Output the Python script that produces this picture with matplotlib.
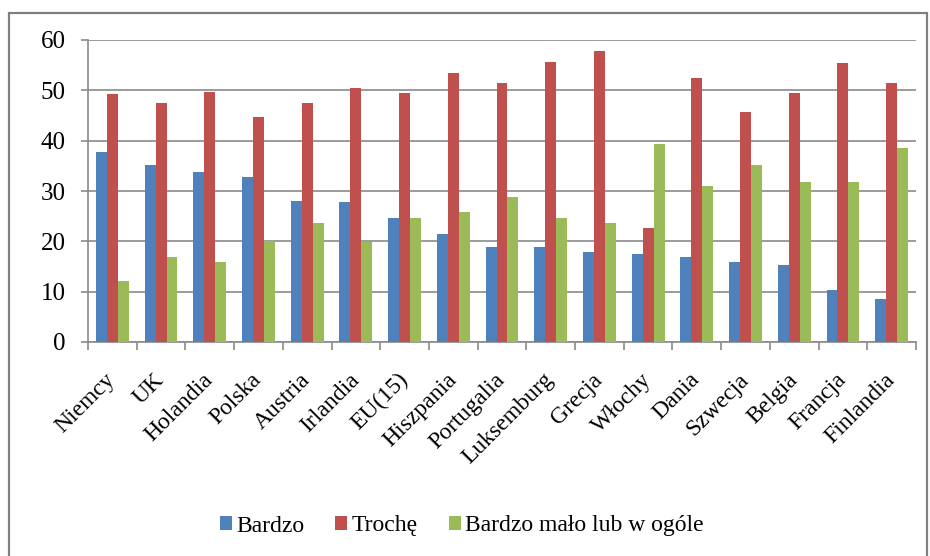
import numpy as np
import matplotlib
matplotlib.use("Agg")
from matplotlib import pyplot as plt
from matplotlib.patches import Rectangle

plt.rcParams['font.family'] = ['Liberation Serif', 'DejaVu Serif']

countries = ['Niemcy', 'UK', 'Holandia', 'Polska', 'Austria', 'Irlandia', 'EU(15)',
             'Hiszpania', 'Portugalia', 'Luksemburg', 'Grecja', 'Włochy', 'Dania',
             'Szwecja', 'Belgia', 'Francja', 'Finlandia']
bardzo = [37.8, 35.1, 33.7, 32.7, 28.1, 27.9, 24.7, 21.5, 18.8, 18.8, 17.8, 17.4,
          16.8, 15.8, 15.2, 10.3, 8.6]
troche = [49.2, 47.5, 49.7, 44.8, 47.5, 50.5, 49.4, 53.4, 51.4, 55.6, 57.8, 22.7,
          52.4, 45.6, 49.4, 55.4, 51.4]
malo = [12.2, 16.8, 15.8, 20.0, 23.7, 19.9, 24.7, 25.9, 28.8, 24.7, 23.7, 39.3,
        31.0, 35.1, 31.7, 31.7, 38.5]
series_names = ['Bardzo', 'Trochę', 'Bardzo mało lub w ogóle']
colors = ['#4F81BD', '#C0504D', '#9BBB59']

fig = plt.figure(figsize=(9.3, 5.56), dpi=100)
# outer chart border (bottom edge is cut off in the original)
fig.patches.append(Rectangle((9/930, -0.01), 918/930, 1 - 13/556 + 0.01,
                             transform=fig.transFigure, fill=False,
                             edgecolor='#808080', linewidth=1.6))

ax = fig.add_axes([88/930, 1 - 342/556, 828/930, 302/556])
x = np.arange(len(countries))
w = 0.225
for k, vals in enumerate([bardzo, troche, malo]):
    ax.bar(x + (k - 1) * w, vals, w, color=colors[k], label=series_names[k], zorder=3)

ax.set_xlim(-0.5, len(countries) - 0.5)
ax.set_ylim(0, 60)
ax.set_yticks(range(0, 61, 10))
ax.yaxis.grid(True, color='#8a8a8a', linewidth=1.2, zorder=0)
for s in ['top', 'right']:
    ax.spines[s].set_visible(False)
ax.spines['left'].set_color('#8a8a8a')
ax.spines['bottom'].set_color('#8a8a8a')
ax.spines['left'].set_linewidth(1.2)
ax.spines['bottom'].set_linewidth(1.2)
ax.tick_params(axis='y', length=5, width=1.2, color='#8a8a8a', labelsize=18, pad=11)
ax.set_xticks(x)
ax.set_xticklabels(countries, rotation=45, ha='right', va='center',
                   rotation_mode='anchor', fontsize=17)
ax.tick_params(axis='x', which='major', length=0, pad=25)
ax.set_xticks(np.arange(-0.5, len(countries)), minor=True)
ax.tick_params(axis='x', which='minor', length=6, width=1.2, color='#8a8a8a')

fig.legend(loc='center', bbox_to_anchor=(462/930, 1 - 526/556), ncol=3, frameon=False,
           fontsize=17, handlelength=0.5, handleheight=0.5, handletextpad=0.2,
           columnspacing=1.3)

fig.savefig('out.png', dpi=100)
